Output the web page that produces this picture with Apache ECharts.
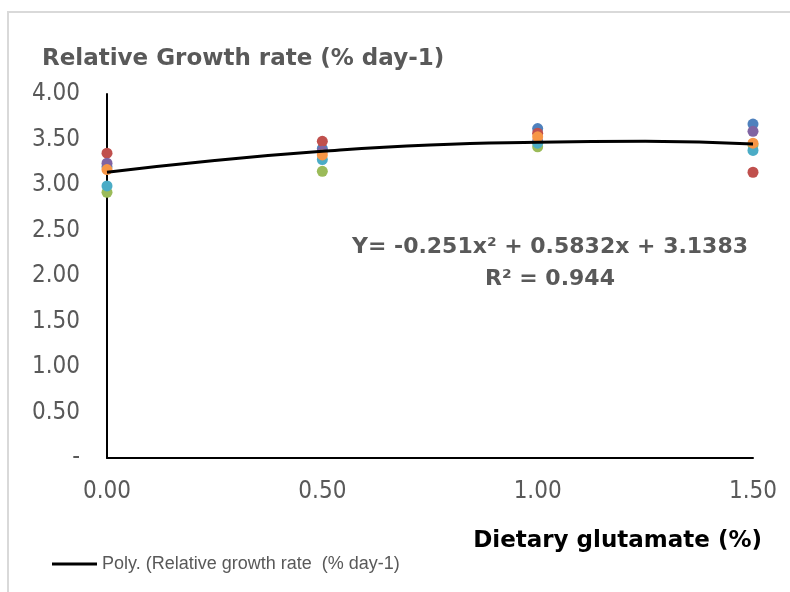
<!DOCTYPE html>
<html>
<head>
<meta charset="utf-8">
<script src="https://cdn.jsdelivr.net/npm/echarts@6/dist/echarts.min.js"></script>
<style>
  html, body { margin: 0; padding: 0; background: #fff; }
  #chart { width: 790px; height: 592px; }
</style>
</head>
<body>
<div id="chart"></div>
<script>
// glutamate levels (%)
const doses = [0, 0.5, 1.0, 1.5]

// relative growth rate per replicate (% day-1)
const rep1 = [3.20, 3.40, 3.62, 3.67]
const rep2 = [3.35, 3.48, 3.57, 3.14]
const rep3 = [2.92, 3.15, 3.42, 3.44]
const rep4 = [3.24, 3.37, 3.48, 3.59]
const rep5 = [2.99, 3.28, 3.46, 3.38]
const rep6 = [3.17, 3.33, 3.53, 3.46]

// poly trendline
const trendX = [0, 0.25, 0.5, 0.75, 1.0, 1.25, 1.5]
const trendY = [3.14, 3.27, 3.37, 3.44, 3.47, 3.48, 3.45]

const repColors = ['#4F81BD', '#C0504D', '#9BBB59', '#8064A2', '#4BACC6', '#F79646']
const trendName = 'Poly. (Relative growth rate  (% day-1)'

const pair = (xs, ys) => xs.map((x, i) => [x, ys[i]])

const chart = echarts.init(document.getElementById('chart'))

const scatterSeries = [rep1, rep2, rep3, rep4, rep5, rep6].map((vals, i) => ({
  name: 'Rep ' + (i + 1),
  type: 'scatter',
  symbolSize: 11,
  itemStyle: { color: repColors[i], opacity: 1 },
  data: pair(doses, vals),
  z: 2
}))

chart.setOption({
  animation: false,
  grid: { left: 107, right: 37, top: 94, bottom: 134 },
  xAxis: {
    type: 'value',
    min: 0,
    max: 1.5,
    interval: 0.5,
    axisLine: { show: true, lineStyle: { color: '#000', width: 2 } },
    axisTick: { show: false },
    splitLine: { show: false },
    axisLabel: {
      margin: 22,
      color: '#595959',
      fontFamily: 'DejaVu Sans Condensed',
      fontSize: 24,
      formatter: v => v.toFixed(2)
    }
  },
  yAxis: {
    type: 'value',
    min: 0,
    max: 4,
    interval: 0.5,
    axisLine: { show: true, lineStyle: { color: '#000', width: 2 } },
    axisTick: { show: false },
    splitLine: { show: false },
    axisLabel: {
      margin: 27,
      color: '#595959',
      fontFamily: 'DejaVu Sans Condensed',
      fontSize: 24,
      formatter: v => (v === 0 ? '-' : v.toFixed(2))
    }
  },
  legend: {
    data: [trendName],
    left: 47,
    top: 549,
    icon: 'rect',
    itemWidth: 45,
    itemHeight: 3,
    itemGap: 4,
    textStyle: {
      color: '#595959',
      fontFamily: 'Liberation Sans',
      fontSize: 18,
      lineHeight: 20
    }
  },
  graphic: [
    {
      type: 'rect',
      silent: true,
      shape: { x: 8, y: 12, width: 800, height: 600 },
      style: { fill: 'none', stroke: '#d9d9d9', lineWidth: 2 }
    },
    {
      type: 'text',
      left: 42,
      top: 48,
      style: {
        text: 'Relative Growth rate (% day-1)',
        fill: '#595959',
        font: 'bold 23px "DejaVu Sans"'
      }
    },
    {
      type: 'text',
      x: 550,
      y: 247,
      style: {
        text: 'Y= -0.251x² + 0.5832x + 3.1383',
        fill: '#595959',
        font: 'bold 22px "DejaVu Sans"',
        align: 'center',
        verticalAlign: 'middle'
      }
    },
    {
      type: 'text',
      x: 550,
      y: 279,
      style: {
        text: 'R² = 0.944',
        fill: '#595959',
        font: 'bold 22px "DejaVu Sans"',
        align: 'center',
        verticalAlign: 'middle'
      }
    },
    {
      type: 'text',
      x: 762,
      y: 541,
      style: {
        text: 'Dietary glutamate (%)',
        fill: '#000',
        font: 'bold 23px "DejaVu Sans"',
        align: 'right',
        verticalAlign: 'middle'
      }
    }
  ],
  series: scatterSeries.concat([
    {
      name: trendName,
      type: 'line',
      smooth: true,
      showSymbol: false,
      lineStyle: { color: '#000', width: 3 },
      itemStyle: { color: '#000' },
      data: pair(trendX, trendY),
      z: 3
    }
  ])
})
</script>
</body>
</html>
